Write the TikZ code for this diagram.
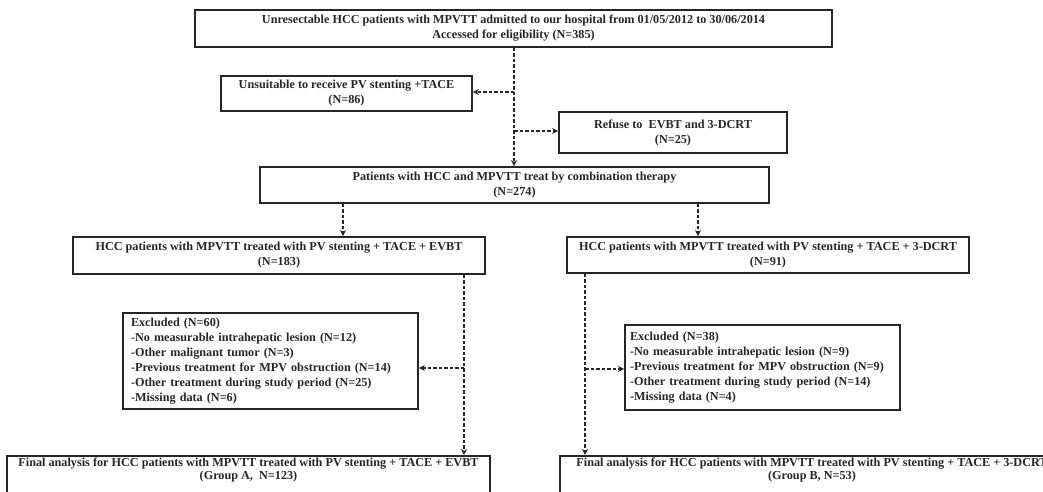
\documentclass[tikz,border=0pt]{standalone}
\usepackage{fontspec}
\setmainfont{Liberation Serif}
\usetikzlibrary{arrows.meta}
\begin{document}
\begin{tikzpicture}[x=1pt,y=-1pt,
  box/.style={draw=black!85,line width=1.8pt,rectangle,inner sep=0pt,align=center,
    font=\bfseries\fontsize{12.2}{15}\selectfont,text=black!85},
  lbox/.style={box,align=left},
  ftext/.style={align=center,inner sep=0pt,text=black!85,
    font=\bfseries\fontsize{12.2}{13}\selectfont},
  arr/.style={draw=black!85,line width=1.3pt,dash pattern=on 3.5pt off 2pt,
    -{Stealth[length=6pt,width=6pt]}}]
\useasboundingbox (0,0) rectangle (1043,491);
\begin{scope}
\clip (0,0) rectangle (1043,491);
\node[box,minimum width=637pt,minimum height=37pt] (top) at (513.5,28.5)
  {Unresectable HCC patients with MPVTT admitted to our hospital from 01/05/2012 to 30/06/2014\\Accessed for eligibility (N=385)};
\node[box,minimum width=251pt,minimum height=35pt] (unsuit) at (346.5,93.5)
  {Unsuitable to receive PV stenting +TACE\\(N=86)};
\node[box,minimum width=228pt,minimum height=41pt] (refuse) at (673,132.5)
  {Refuse to~ EVBT and 3-DCRT\\(N=25)};
\node[box,minimum width=509pt,minimum height=36pt] (combo) at (514.5,185)
  {Patients with HCC and MPVTT treat by combination therapy\\(N=274)};
\node[box,minimum width=412pt,minimum height=37pt] (evbt) at (279,255.5)
  {HCC patients with MPVTT treated with PV stenting + TACE + EVBT\\(N=183)};
\node[box,minimum width=402pt,minimum height=36pt] (dcrt) at (768,255)
  {HCC patients with MPVTT treated with PV stenting + TACE + 3-DCRT\\(N=91)};
\node[lbox,minimum width=295pt,minimum height=96pt,text width=279pt] (excla) at (270.5,361)
  {Excluded (N=60)\\-No measurable intrahepatic lesion (N=12)\\-Other malignant tumor (N=3)\\-Previous treatment for MPV obstruction (N=14)\\-Other treatment during study period (N=25)\\-Missing data (N=6)};
\node[lbox,minimum width=275pt,minimum height=85pt,text width=265pt] (exclb) at (762.5,367.5)
  {Excluded (N=38)\\-No measurable intrahepatic lesion (N=9)\\-Previous treatment for MPV obstruction (N=9)\\-Other treatment during study period (N=14)\\-Missing data (N=4)};
\node[box,minimum width=483pt,minimum height=50pt,anchor=north,label distance=0pt,
  label={[ftext,anchor=north,yshift=-2.5pt]north:{Final analysis for HCC patients with MPVTT treated with PV stenting + TACE + EVBT\\(Group A,~ N=123)}}] (fina) at (248.5,455) {};
\node[box,minimum width=504pt,minimum height=50pt,anchor=north,label distance=0pt,
  label={[ftext,anchor=north,yshift=-2.5pt]north:{Final analysis for HCC patients with MPVTT treated with PV stenting + TACE + 3-DCRT\\(Group B, N=53)}}] (finb) at (812,455) {};
\end{scope}
\coordinate (c1) at (514,92);
\coordinate (c2) at (514,131);
\coordinate (xl) at (343,0);
\coordinate (xr) at (698,0);
\coordinate (xa) at (464,368);
\coordinate (xb) at (585,369);
\draw[arr] (top.south -| c1) -- (combo.north -| c1);
\draw[arr] (c1) -- (c1 -| unsuit.east);
\draw[arr] (c2) -- (c2 -| refuse.west);
\draw[arr] (xl |- combo.south) -- (xl |- evbt.north);
\draw[arr] (xr |- combo.south) -- (xr |- dcrt.north);
\draw[arr] (xa |- evbt.south) -- (xa |- fina.north);
\draw[arr] (xa) -- (xa -| excla.east);
\draw[arr] (xb |- dcrt.south) -- (xb |- finb.north);
\draw[arr] (xb) -- (xb -| exclb.west);
\end{tikzpicture}
\end{document}
